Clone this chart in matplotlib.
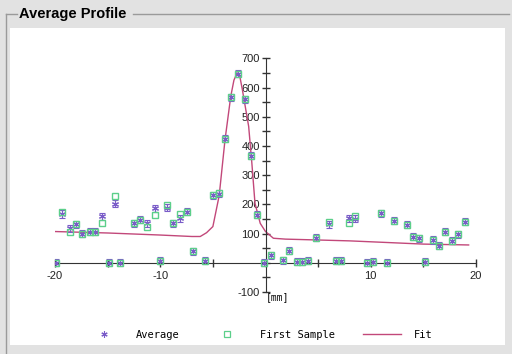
import matplotlib
matplotlib.use("Agg")
import matplotlib.pyplot as plt
from matplotlib.patches import Rectangle
from matplotlib.lines import Line2D
from matplotlib.ticker import MultipleLocator, FixedLocator

# positions along the profile [mm]
pos = [-19.9, -19.35, -18.55, -18.0, -17.4, -16.7, -16.2, -15.5, -14.9, -14.3,
       -13.8, -12.5, -11.9, -11.25, -10.5, -10.0, -9.4, -8.8, -8.1, -7.5,
       -6.9, -5.75, -5.0, -4.4, -3.85, -3.3, -2.6, -1.95, -1.4, -0.8,
       -0.15, 0.5, 1.64, 2.27, 2.97, 3.5, 4.08, 4.8, 6.05, 6.7,
       7.2, 7.95, 8.5, 9.6, 10.25, 10.97, 11.5, 12.17, 13.45, 14.0,
       14.6, 15.2, 15.9, 16.5, 17.1, 17.7, 18.3, 19.0]

average = [0, 167, 118, 132, 99, 107, 107, 160, 0, 202,
           0, 135, 147, 135, 187, 7, 188, 135, 152, 175,
           40, 7, 232, 236, 424, 567, 647, 559, 367, 164,
           0, 26, 9, 41, 3, 3, 7, 86, 132, 7,
           7, 152, 150, 0, 3, 170, 0, 144, 130, 89,
           84, 3, 78, 58, 107, 75, 97, 141]

first_sample = [0, 175, 107, 132, 99, 107, 107, 135, 0, 227,
                0, 135, 147, 122, 164, 7, 198, 135, 167, 175,
                40, 7, 232, 238, 424, 567, 647, 559, 367, 164,
                0, 26, 9, 41, 3, 3, 7, 86, 140, 7,
                7, 137, 160, 0, 3, 170, 0, 144, 130, 89,
                84, 3, 78, 58, 107, 75, 97, 141]

avg_err = 12

fit_x = [-20, -15, -10, -7, -6.2, -5.6, -5.0, -4.4, -3.85, -3.3, -3.0, -2.7,
         -2.45, -2.2, -1.6, -1.3, -1.0, -0.5, 0, 0.75, 1.9, 5, 8, 11.2, 15, 19.3]
fit_y = [107, 102, 95, 90, 90, 103, 124, 230, 420, 570, 625, 650,
         640, 593, 467, 343, 204, 135, 107, 84, 81, 78, 75, 70, 64, 61]

W, H = 512, 354
fig = plt.figure(figsize=(W / 100, H / 100), dpi=100)
fig.patch.set_facecolor('#e2e2e2')

# white panel + group box frame
fig.patches.append(Rectangle((10 / W, 9 / H), 495 / W, 317 / H,
                             transform=fig.transFigure, facecolor='white',
                             edgecolor='none', zorder=-2))
frame = '#9a9a9a'
for xs, ys in [([6, 6], [354, 14]), ([6, 17], [14, 14]), ([133, 509], [14, 14])]:
    fig.lines.append(Line2D([x / W for x in xs], [1 - y / H for y in ys],
                            transform=fig.transFigure, color=frame, lw=1, zorder=-1))
fig.text(19 / W, 1 - 14 / H, 'Average Profile', fontsize=10.5, fontweight='bold',
         family='Liberation Sans', va='center', ha='left')

ax = fig.add_axes([55 / W, 62 / H, 421 / W, 233.7 / H])
ax.set_zorder(2)
ax.set_facecolor('none')
ax.set_xlim(-20, 20)
ax.set_ylim(-100, 700)

for s in ['top', 'right']:
    ax.spines[s].set_visible(False)
ax.spines['left'].set_position(('data', 0))
ax.spines['bottom'].set_position(('data', 0))
ax.spines['left'].set_color('#333333')
ax.spines['bottom'].set_color('#333333')

ax.xaxis.set_major_locator(FixedLocator([-20, -10, 0, 10, 20]))
ax.xaxis.set_minor_locator(FixedLocator([-15, -5, 5, 15]))
ax.yaxis.set_major_locator(MultipleLocator(100))
ax.yaxis.set_minor_locator(MultipleLocator(50))
ax.tick_params(which='both', direction='inout', length=6, width=1, color='#333333',
               labelsize=8, labelcolor='#222222')
ax.tick_params(axis='x', pad=3)
ax.tick_params(axis='y', pad=1)
ax.xaxis.set_major_formatter(plt.FuncFormatter(lambda v, p: '' if v == 0 else '%d' % v))
ax.yaxis.set_major_formatter(plt.FuncFormatter(lambda v, p: '' if v == 0 else '%d' % v))
for lab in ax.get_xticklabels() + ax.get_yticklabels():
    lab.set_family('Liberation Sans')

purple = '#7a5cc8'
green = '#5ccf8a'
fit_col = '#c2487a'

ax.plot(fit_x, fit_y, color=fit_col, lw=1.0, zorder=2)
ax.errorbar(pos, average, yerr=avg_err, fmt='none', ecolor=purple, elinewidth=0.8,
            capsize=2.2, capthick=0.8, zorder=3)
ax.plot(pos, average, ls='none', marker=(6, 2, 0), ms=5, mec=purple, mew=0.8, zorder=4)
ax.plot(pos, first_sample, ls='none', marker='s', ms=4.5, mfc='none', mec=green,
        mew=1.0, zorder=5)

fig.text(277 / W, 1 - 297 / H, '[mm]', fontsize=7, family='DejaVu Sans Mono',
         ha='center', va='center')

# legend
handles = [Line2D([], [], ls='none', marker=(6, 2, 0), ms=4.5, mec=purple, mew=0.8),
           Line2D([], [], ls='none', marker='s', ms=4.5, mfc='none', mec=green, mew=0.9),
           Line2D([], [], color=fit_col, lw=1.0)]
leg = fig.legend(handles, ['Average', 'First Sample', 'Fit'], ncol=3, loc='center',
                 bbox_to_anchor=(259 / W, 1 - 335 / H), frameon=False,
                 prop={'family': 'DejaVu Sans Mono', 'size': 7.5},
                 handlelength=3.6, handletextpad=1.3, columnspacing=2.75)

fig.savefig('out.png', dpi=100, facecolor=fig.get_facecolor())
